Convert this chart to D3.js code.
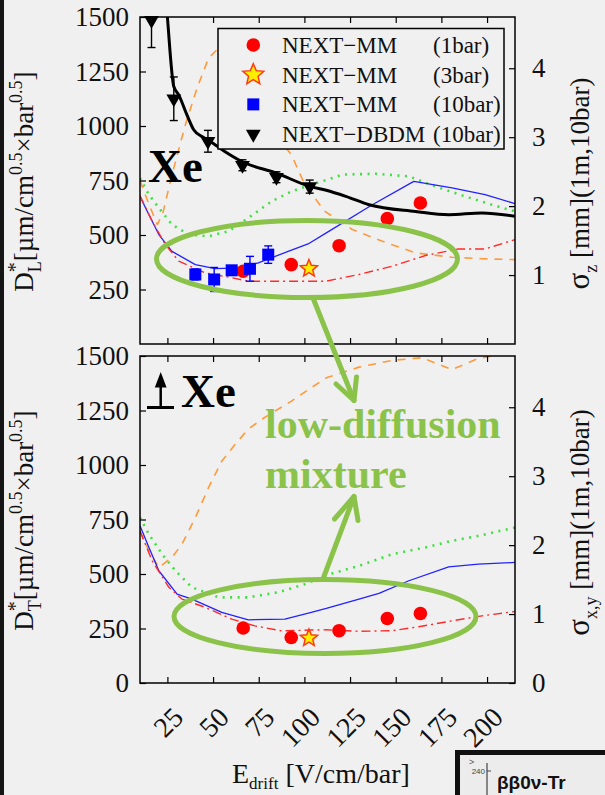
<!DOCTYPE html>
<html>
<head>
<meta charset="utf-8">
<script src="https://cdn.jsdelivr.net/npm/d3@7"></script>
<style>
  html, body { margin: 0; padding: 0; background: #f0f0f0; }
  svg { display: block; }
  svg text { font-family: "Liberation Serif", "Times New Roman", serif; }
  svg text.sans { font-family: "Liberation Sans", Arial, sans-serif; }
</style>
</head>
<body>
<svg id="fig" width="605" height="795"></svg>
<script>
// ---------------- data ----------------
const xTicks = [25, 50, 75, 100, 125, 150, 175, 200];
const dTicksLong = [250, 500, 750, 1000, 1250, 1500];
const dTicksTrans = [0, 250, 500, 750, 1000, 1250, 1500];
const sigmaTicksLong = [1, 2, 3, 4];
const sigmaTicksTrans = [0, 1, 2, 3, 4];

// NEXT-MM measurements (1 bar)
const mm1Field = [66.5, 92.8, 119, 145.4, 163.5];
const mm1Long = [334, 364, 451, 575, 647];
const mm1Trans = [252, 209, 240, 296, 319];
// NEXT-MM (3 bar)
const mm3Field = [102.5];
const mm3Long = [346];
const mm3Trans = [206];
// NEXT-MM (10 bar), longitudinal only
const mm10Field = [40.3, 50.6, 60.2, 70.2, 80.2];
const mm10Long = [319, 296, 338, 345, 410];
const mm10LongErr = [25, 55, 20, 57, 40];
// NEXT-DBDM (10 bar), longitudinal only
const dbdmField = [16.3, 28.5, 47.2, 66.1, 84.7, 102.9];
const dbdmLong = [1485, 1125, 930, 820, 765, 722];
const dbdmLongErr = [125, 100, 50, 25, 25, 30];
// smooth curve through the DBDM points
const dbdmFitField = [23, 25, 28.5, 31.2, 35.7, 39.4, 43.9, 47, 56.4, 65.7, 84.7, 102.9, 112, 122.7, 135.4, 160.8, 179, 197.2, 215.3];
const dbdmFitLong = [1720, 1500, 1181, 1143, 1051, 983, 952, 937, 883, 837, 784, 723, 705, 677, 639, 608, 593, 601, 586];

// simulated mixtures, longitudinal
const orangeLongField = [10, 14.9, 19.5, 22.5, 27.5, 34.8, 41.2, 47.5, 53, 62, 72, 82, 89.8, 92.9, 100.2, 111, 126.3, 142.7, 160.8, 180.8, 197.2, 215.3];
const orangeLong = [750, 640, 548, 600, 776, 1005, 1173, 1311, 1357, 1420, 1400, 1200, 900, 868, 731, 610, 525, 471, 418, 398, 391, 387];
const greenLongField = [10, 14.9, 20.3, 27.5, 36.6, 47.5, 58.4, 69.3, 82, 92.9, 103.8, 112, 120.9, 139, 157.2, 171.7, 188, 202.6, 215.3];
const greenLong = [761, 685, 624, 548, 502, 494, 517, 578, 654, 700, 731, 752, 777, 781, 769, 723, 677, 639, 608];
const blueLongField = [10, 14.9, 20.3, 27.5, 40.3, 51.2, 63.9, 74.8, 91.1, 102, 112, 137.2, 159.9, 180.8, 198.9, 215.3];
const blueLong = [677, 593, 502, 425, 364, 346, 349, 372, 425, 459, 510, 639, 746, 716, 685, 644];
const redLongField = [10, 16.7, 23.9, 31.2, 45.7, 60.2, 69.3, 82, 96.6, 111.8, 129.9, 148.1, 166.3, 184.4, 198.9, 215.3];
const redLong = [680, 563, 456, 380, 326, 304, 288, 288, 288, 288, 319, 357, 406, 436, 436, 479];

// simulated mixtures, transverse
const orangeTransField = [10, 14.9, 20.3, 27.5, 33, 40.3, 47.5, 54.8, 62.1, 69.3, 78.4, 87.4, 92.9, 103.8, 112, 129.9, 148.1, 164.4, 180.8, 195.3, 206.2, 215.3];
const orangeTrans = [697, 606, 530, 576, 637, 759, 896, 1018, 1095, 1165, 1219, 1265, 1293, 1355, 1400, 1449, 1480, 1492, 1438, 1489, 1505, 1520];
const greenTransField = [10, 14.9, 22.1, 29.4, 38.4, 53, 69.3, 85.7, 100.2, 112, 129.9, 148.1, 166.3, 180.8, 195.3, 215.3];
const greenTrans = [759, 682, 591, 515, 439, 393, 393, 416, 453, 495, 537, 591, 622, 652, 675, 713];
const blueTransField = [10, 14.9, 20.3, 30.3, 38.4, 54.8, 69.3, 89.3, 103.8, 112, 129.9, 140.8, 157.2, 179, 195.3, 215.3];
const blueTrans = [721, 622, 515, 408, 385, 324, 290, 293, 324, 342, 385, 411, 469, 533, 545, 553];
const redTransField = [10, 16.7, 25.8, 33, 45.7, 60.2, 72.9, 87.5, 103.8, 112, 129.9, 148.1, 162.6, 180.8, 197.2, 215.3];
const redTrans = [697, 560, 439, 385, 347, 293, 262, 239, 243, 244, 237, 240, 258, 285, 308, 328];

const legendNames = ["NEXT\u2212MM", "NEXT\u2212MM", "NEXT\u2212MM", "NEXT\u2212DBDM"];
const legendPressures = ["(1bar)", "(3bar)", "(10bar)", "(10bar)"];

// ---------------- layout / styles ----------------
const W = 605, H = 795;
const SERIF = "Liberation Serif";
const GREEN_NOTE = "#8bc34a";
// sigma at 1 m drift, 10 bar: sigma[mm] = D* * sqrt(100 cm / 10 bar) / 1000
const SIGMA_PER_D = Math.sqrt(100 / 10) / 1000;
const plotLeft = 140, plotRight = 515;

const x = d3.scaleLinear().domain([10, 215.3]).range([plotLeft, plotRight]);

const svg = d3.select("#fig");
svg.append("rect").attr("width", W).attr("height", H).attr("fill", "#f0f0f0");
svg.append("rect").attr("x", 0).attr("y", 0).attr("width", 4).attr("height", H).attr("fill", "#151515");

const styles = {
  orange: { stroke: "#ff9a3c", width: 1.6, dash: "8,7" },
  green:  { stroke: "#3fe03f", width: 2.6, dash: "2,5.5" },
  blue:   { stroke: "#2222ff", width: 1.3, dash: null },
  red:    { stroke: "#ff2a2a", width: 1.4, dash: "9,4,2,4" },
  black:  { stroke: "#000", width: 3, dash: null }
};

function starPath(ro, ri) {
  const pts = [];
  for (let i = 0; i < 10; i++) {
    const r = i % 2 === 0 ? ro : ri;
    const a = -Math.PI / 2 + i * Math.PI / 5;
    pts.push([r * Math.cos(a), r * Math.sin(a)]);
  }
  return "M" + pts.map(p => p.join(",")).join("L") + "Z";
}
const triDown = d3.symbol(d3.symbolTriangle, 95)();

function styleAxis(g) {
  g.select(".domain").remove();
  g.attr("font-family", null).attr("font-size", 27);
  g.selectAll(".tick line").attr("stroke", "#000").attr("stroke-width", 1.2);
  g.selectAll(".tick text").attr("fill", "#111").style("font-family", SERIF).style("font-size", "27px");
}

function addRuns(parent, runs) {
  runs.forEach(r => {
    const t = parent.append("tspan").text(r.t);
    if (r.size) t.attr("font-size", r.size);
    if (r.dx) t.attr("dx", r.dx);
    if (r.dy) t.attr("dy", r.dy);
  });
}

function buildPanel(cfg) {
  const y = d3.scaleLinear().domain([0, 1500]).range([cfg.bottom, cfg.top]);
  const s = d3.scaleLinear().domain([0, 1500 * SIGMA_PER_D]).range([cfg.bottom, cfg.top]);
  const g = svg.append("g");
  const clipId = "clip-" + cfg.id;
  svg.append("clipPath").attr("id", clipId)
    .append("rect").attr("x", plotLeft).attr("y", cfg.top)
    .attr("width", plotRight - plotLeft).attr("height", cfg.bottom - cfg.top);
  const plot = g.append("g").attr("clip-path", `url(#${clipId})`);

  cfg.curves.forEach(c => {
    const st = styles[c.style];
    const line = d3.line().x(d => x(d[0])).y(d => y(d[1])).curve(c.curve || d3.curveLinear);
    plot.append("path").datum(d3.zip(c.E, c.D))
      .attr("d", line).attr("fill", "none")
      .attr("stroke", st.stroke).attr("stroke-width", st.width)
      .attr("stroke-dasharray", st.dash).attr("stroke-linejoin", "round");
  });

  // error bars
  (cfg.errors || []).forEach(eb => {
    eb.E.forEach((e, i) => {
      const cx = x(e), lo = y(eb.D[i] - eb.err[i]), hi = y(eb.D[i] + eb.err[i]);
      plot.append("line").attr("x1", cx).attr("x2", cx).attr("y1", lo).attr("y2", hi)
        .attr("stroke", eb.color).attr("stroke-width", 1.4);
      [lo, hi].forEach(yy => plot.append("line").attr("x1", cx - 4).attr("x2", cx + 4)
        .attr("y1", yy).attr("y2", yy).attr("stroke", eb.color).attr("stroke-width", 1.4));
    });
  });

  // markers (drawn unclipped so edge points stay whole)
  const mk = g.append("g");
  (cfg.markers || []).forEach(m => {
    m.E.forEach((e, i) => {
      const cx = x(e), cy = y(m.D[i]);
      if (m.type === "circle") {
        mk.append("circle").attr("cx", cx).attr("cy", cy).attr("r", 6.8).attr("fill", "#ff0000");
      } else if (m.type === "star") {
        mk.append("path").attr("d", starPath(9, 4)).attr("transform", `translate(${cx},${cy})`)
          .attr("fill", "#ffee00").attr("stroke", "#ff3a10").attr("stroke-width", 1.5);
      } else if (m.type === "square") {
        mk.append("rect").attr("x", cx - 6).attr("y", cy - 6).attr("width", 12).attr("height", 12).attr("fill", "#0000ff");
      } else if (m.type === "triangle") {
        mk.append("path").attr("d", triDown).attr("transform", `translate(${cx},${cy}) rotate(180)`).attr("fill", "#000");
      }
    });
  });

  // axes with inward ticks
  g.append("g").attr("transform", `translate(${plotLeft},0)`)
    .call(d3.axisLeft(y).tickValues(cfg.dTicks).tickSize(-6).tickPadding(11).tickFormat(d3.format("d")))
    .call(styleAxis);
  g.append("g").attr("transform", `translate(${plotRight},0)`)
    .call(d3.axisRight(s).tickValues(cfg.sTicks).tickSize(-6).tickPadding(17).tickFormat(d3.format("d")))
    .call(styleAxis);
  g.append("g").attr("transform", `translate(0,${cfg.top})`)
    .call(d3.axisTop(x).tickValues(xTicks).tickSize(-6).tickFormat(""))
    .call(styleAxis);
  const bottomAxis = g.append("g").attr("transform", `translate(0,${cfg.bottom})`)
    .call(d3.axisBottom(x).tickValues(xTicks).tickSize(-6).tickFormat(""))
    .call(styleAxis);

  if (cfg.xLabels) {
    bottomAxis.selectAll(".tick").append("text")
      .attr("text-anchor", "end")
      .attr("transform", "translate(17,36) rotate(-45)")
      .attr("fill", "#111")
      .style("font-family", SERIF).style("font-size", "28px")
      .text(d => d);
  }

  // frame
  g.append("rect").attr("x", plotLeft).attr("y", cfg.top)
    .attr("width", plotRight - plotLeft).attr("height", cfg.bottom - cfg.top)
    .attr("fill", "none").attr("stroke", "#000").attr("stroke-width", 1.5);

  // axis titles
  const mid = (cfg.top + cfg.bottom) / 2;
  const lt = g.append("text").attr("transform", `translate(33,${mid + 1}) rotate(-90)`)
    .attr("text-anchor", "middle").attr("font-size", 27).attr("fill", "#111");
  addRuns(lt, [
    { t: "D" },
    { t: "*", size: 20, dy: -11 },
    { t: cfg.sub, size: 18, dx: -10, dy: 19 },
    { t: "[\u00b5m/cm", size: 27, dy: -8 },
    { t: "0.5", size: 18, dy: -11 },
    { t: "\u00d7bar", size: 27, dy: 11 },
    { t: "0.5", size: 18, dy: -11 },
    { t: "]", size: 27, dy: 11 }
  ]);
  const rt = g.append("text").attr("transform", `translate(589,${mid + 3}) rotate(-90)`)
    .attr("text-anchor", "middle").attr("font-size", 27).attr("fill", "#111");
  addRuns(rt, [
    { t: "\u03c3", size: 31 },
    { t: cfg.sigmaSub, size: 18, dy: 8 },
    { t: " [mm](1m,10bar)", size: 27, dy: -8 }
  ]);
  return { g, y };
}

// ---------- longitudinal panel ----------
buildPanel({
  id: "long", top: 17, bottom: 344,
  dTicks: dTicksLong, sTicks: sigmaTicksLong, sub: "L", sigmaSub: "z",
  curves: [
    { E: orangeLongField, D: orangeLong, style: "orange" },
    { E: greenLongField, D: greenLong, style: "green" },
    { E: blueLongField, D: blueLong, style: "blue" },
    { E: redLongField, D: redLong, style: "red" },
    { E: dbdmFitField, D: dbdmFitLong, style: "black", curve: d3.curveMonotoneX }
  ],
  errors: [
    { E: dbdmField, D: dbdmLong, err: dbdmLongErr, color: "#000" },
    { E: mm10Field, D: mm10Long, err: mm10LongErr, color: "#0000ff" }
  ],
  markers: [
    { type: "triangle", E: dbdmField, D: dbdmLong },
    { type: "circle", E: mm1Field, D: mm1Long },
    { type: "square", E: mm10Field, D: mm10Long },
    { type: "star", E: mm3Field, D: mm3Long }
  ]
});

// ---------- transverse panel ----------
buildPanel({
  id: "trans", top: 356, bottom: 683,
  dTicks: dTicksTrans, sTicks: sigmaTicksTrans, sub: "T", sigmaSub: "x,y",
  xLabels: true,
  curves: [
    { E: orangeTransField, D: orangeTrans, style: "orange" },
    { E: greenTransField, D: greenTrans, style: "green" },
    { E: blueTransField, D: blueTrans, style: "blue" },
    { E: redTransField, D: redTrans, style: "red" }
  ],
  markers: [
    { type: "circle", E: mm1Field, D: mm1Trans },
    { type: "star", E: mm3Field, D: mm3Trans }
  ]
});

// x-axis title
const xt = svg.append("text").attr("x", 232).attr("y", 783)
  .attr("font-size", 28).attr("fill", "#111");
addRuns(xt, [
  { t: "E" },
  { t: "drift", size: 17, dy: 6 },
  { t: " [V/cm/bar]", size: 28, dy: -6 }
]);

// ---------- legend ----------
const lg = svg.append("g");
lg.append("rect").attr("x", 218).attr("y", 28.5).attr("width", 286).attr("height", 120.5)
  .attr("fill", "#f0f0f0").attr("stroke", "#000").attr("stroke-width", 1.5);
const legendTypes = ["circle", "star", "square", "triangle"];
legendTypes.forEach((t, i) => {
  const cy = 45 + i * 29.7, cx = 253.3;
  if (t === "circle") lg.append("circle").attr("cx", cx).attr("cy", cy).attr("r", 6.8).attr("fill", "#ff0000");
  if (t === "star") lg.append("path").attr("d", starPath(11, 5)).attr("transform", `translate(${cx},${cy})`)
    .attr("fill", "#ffee00").attr("stroke", "#ff3a10").attr("stroke-width", 1.5);
  if (t === "square") lg.append("rect").attr("x", cx - 6).attr("y", cy - 6).attr("width", 12).attr("height", 12).attr("fill", "#0000ff");
  if (t === "triangle") lg.append("path").attr("d", triDown).attr("transform", `translate(${cx},${cy}) rotate(180)`).attr("fill", "#000");
  lg.append("text").attr("x", 282).attr("y", cy + 7.8).attr("font-size", 23)
    .attr("fill", "#111").text(legendNames[i]);
  lg.append("text").attr("x", 433).attr("y", cy + 7.8).attr("font-size", 23)
    .attr("fill", "#111").text(legendPressures[i]);
});

// ---------- panel tags ----------
svg.append("text").attr("x", 148).attr("y", 181.5).attr("font-weight", "bold")
  .attr("font-size", 47).attr("fill", "#000").text("Xe");
svg.append("text").attr("x", 181).attr("y", 406.5).attr("font-weight", "bold")
  .attr("font-size", 47).attr("fill", "#000").text("Xe");
const perp = svg.append("g").attr("stroke", "#000");
perp.append("line").attr("x1", 147).attr("x2", 174).attr("y1", 407.5).attr("y2", 407.5).attr("stroke-width", 3);
perp.append("line").attr("x1", 160.7).attr("x2", 160.7).attr("y1", 407).attr("y2", 384).attr("stroke-width", 2.5);
perp.append("path").attr("d", "M160.7,372L154.8,387.5L166.6,387.5Z").attr("fill", "#000").attr("stroke", "none");

// ---------- low-diffusion annotation ----------
const note = svg.append("g").attr("stroke", GREEN_NOTE).attr("fill", "none").attr("stroke-width", 5)
  .attr("stroke-linecap", "round").attr("stroke-linejoin", "round");
note.append("ellipse").attr("cx", 307).attr("cy", 259).attr("rx", 150.5).attr("ry", 38.5);
note.append("ellipse").attr("cx", 325).attr("cy", 616.5).attr("rx", 151).attr("ry", 37);
note.append("line").attr("x1", 313).attr("y1", 298).attr("x2", 354).attr("y2", 400.5);
note.append("path").attr("d", "M336,384L354,400.5L356.5,377");
note.append("line").attr("x1", 323).attr("y1", 579).attr("x2", 354).attr("y2", 496.5);
note.append("path").attr("d", "M334.5,519L354,496.5L358,520.5");
svg.append("text").attr("x", 265).attr("y", 438).attr("font-weight", "bold")
  .attr("font-size", 42).attr("fill", GREEN_NOTE).text("low-diffusion");
svg.append("text").attr("x", 265).attr("y", 488).attr("font-weight", "bold")
  .attr("font-size", 42).attr("fill", GREEN_NOTE).text("mixture");

// ---------- neighbouring panel edge (bottom right) ----------
const inset = svg.append("g");
inset.append("rect").attr("x", 457.5).attr("y", 752.5).attr("width", 170).attr("height", 70)
  .attr("fill", "#ececec").attr("stroke", "#111").attr("stroke-width", 5);
inset.append("line").attr("x1", 487).attr("x2", 487).attr("y1", 763).attr("y2", 800).attr("stroke", "#444").attr("stroke-width", 1.2);
inset.append("line").attr("x1", 487).attr("x2", 491).attr("y1", 771).attr("y2", 771).attr("stroke", "#444").attr("stroke-width", 1);
inset.append("text").attr("class", "sans").attr("x", 485).attr("y", 774).attr("text-anchor", "end")
  .attr("font-size", 8).attr("fill", "#444").text("240");
inset.append("text").attr("class", "sans").attr("x", 469).attr("y", 765)
  .attr("font-size", 9).attr("fill", "#555").text(">");
inset.append("text").attr("class", "sans").attr("x", 497).attr("y", 789).attr("font-weight", "bold")
  .attr("font-size", 19).attr("fill", "#111").text("\u03b2\u03b20\u03bd-Tr");
</script>
</body>
</html>
